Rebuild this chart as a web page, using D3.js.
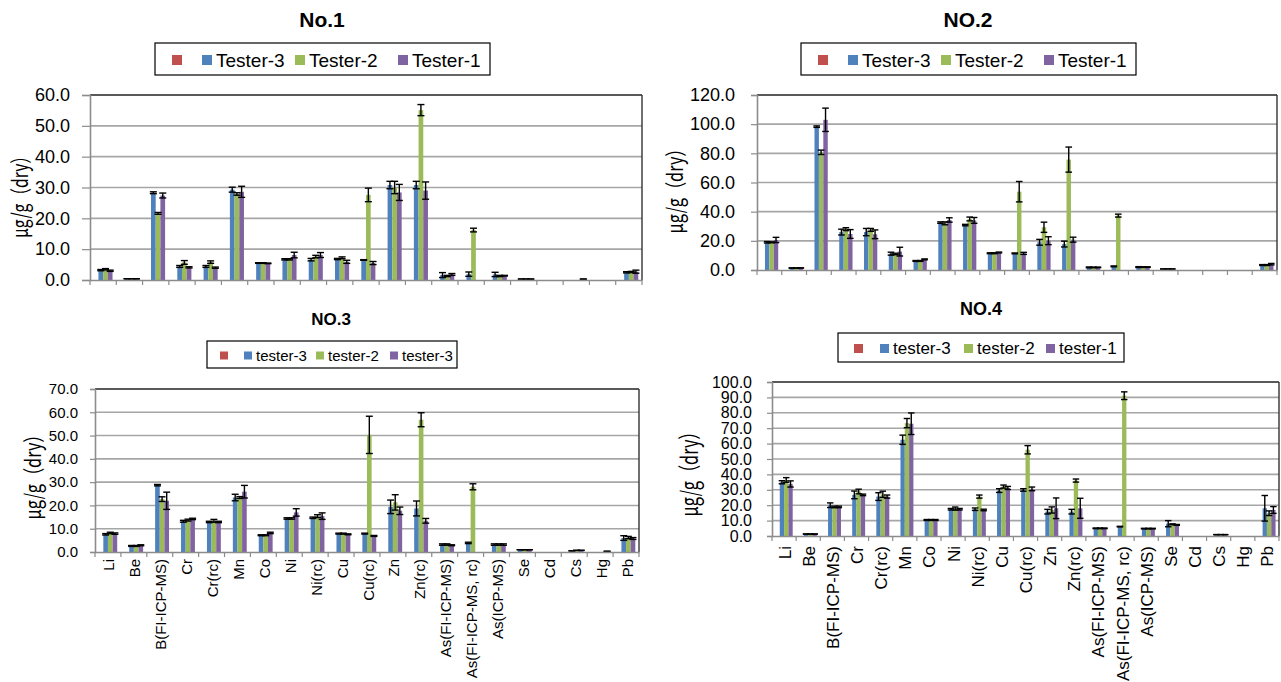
<!DOCTYPE html>
<html><head><meta charset="utf-8">
<script src="https://cdn.jsdelivr.net/npm/d3@7"></script>
<style>body{margin:0;background:#fff}svg{display:block}</style>
</head><body>
<svg id="c" width="1281" height="682"></svg>
<script>
// ---------- DATA ----------
const categories = ["Li","Be","B(FI-ICP-MS)","Cr","Cr(rc)","Mn","Co","Ni","Ni(rc)","Cu","Cu(rc)","Zn","Zn(rc)","As(FI-ICP-MS)","As(FI-ICP-MS, rc)","As(ICP-MS)","Se","Cd","Cs","Hg","Pb"];
const seriesKeys = ["red","blue","green","purple"];
const seriesColors = ["#C0504D","#4F81BD","#9BBB59","#8064A2"];

const legendNo1 = ["", "Tester-3", "Tester-2", "Tester-1"];
const legendNo2 = ["", "Tester-3", "Tester-2", "Tester-1"];
const legendNo3 = ["", "tester-3", "tester-2", "tester-3"];
const legendNo4 = ["", "tester-3", "tester-2", "tester-1"];

const yTicksNo1 = [0,10,20,30,40,50,60];
const yTicksNo2 = [0,20,40,60,80,100,120];
const yTicksNo3 = [0,10,20,30,40,50,60,70];
const yTicksNo4 = [0,10,20,30,40,50,60,70,80,90,100];

const no1Blue      = [3.2,0.4,28.3,4.4,4.4,29.3,5.5,6.7,6.6,6.8,6.5,30.8,30.8,1.6,1.9,1.8,0.3,0,0,0,2.5];
const no1BlueErr   = [0.2,0,0.3,0.3,0.3,0.8,0.1,0.2,0.4,0.2,0.1,1.2,1.2,0.8,0.7,0.7,0,0,0,0,0.2];
const no1Green     = [3.5,0.4,21.6,5.7,5.8,27.9,5.5,6.7,7.6,7.2,27.6,30.0,55.1,1.3,16.2,1.3,0.3,0,0,0,2.6];
const no1GreenErr  = [0.2,0,0.3,0.6,0.4,0.4,0.1,0.2,0.4,0.3,2.2,2.0,1.8,0.2,0.6,0.2,0,0,0,0,0.2];
const no1Purple    = [3.0,0.4,27.4,4.1,4.0,28.6,5.4,8.1,8.1,5.9,5.5,28.4,29.0,1.8,0,1.4,0.3,0,0.3,0,2.7];
const no1PurpleErr = [0.2,0,0.8,0.2,0.2,1.8,0.1,0.9,0.8,0.5,0.5,2.6,2.8,0.3,0,0.1,0,0,0,0,0.5];

const no2Blue      = [19.0,1.4,98.3,26.0,26.0,11.2,6.2,32.5,30.8,11.5,11.4,19.0,17.8,1.8,2.5,2.0,0.7,0,0,0,3.4];
const no2BlueErr   = [0.5,0,0.5,2,2.5,1,0.3,0.5,0.5,0.3,0.3,2,2,0.3,0.3,0.3,0,0,0,0,0.3];
const no2Green     = [19.0,1.4,80.7,28.0,27.5,11.0,6.2,32.0,35.0,11.5,53.7,29.3,75.7,1.8,37.3,2.0,0.7,0,0,0,3.4];
const no2GreenErr  = [0.3,0,1.5,1,1,0.5,0.3,1,1.3,0.3,7,3.5,8.6,0.2,1,0.2,0,0,0,0,0.3];
const no2Purple    = [20.6,1.4,103,24.7,24.5,12.6,7.3,34.3,34.0,12.0,11.4,20.1,20.8,1.8,0,2.0,0.7,0,0,0,4.0];
const no2PurpleErr = [1.8,0,8,3,3,3,0.3,1.5,2,0.3,0.7,2.7,1.7,0.2,0,0.2,0,0,0,0,0.5];

const no3Blue      = [7.6,2.6,28.7,13.2,12.9,23.4,7.2,14.4,14.7,7.9,7.9,19.4,18.7,3.2,3.9,3.2,1.0,0,0.5,0,6.0];
const no3BlueErr   = [0.3,0.2,0.3,0.4,0.3,1.4,0.2,0.3,0.3,0.2,0.2,2.9,3.2,0.3,0.3,0.3,0,0,0,0,1.0];
const no3Green     = [8.2,2.6,22.7,13.7,13.4,23.4,7.2,14.4,15.4,7.9,50.3,21.3,56.8,3.2,28.0,3.2,1.0,0,0.7,0,6.2];
const no3GreenErr  = [0.3,0.2,1.0,0.4,0.6,0.4,0.2,0.3,0.6,0.2,8,3.3,3,0.3,1.3,0.3,0,0,0,0,0.5];
const no3Purple    = [7.9,2.9,22.0,14.2,12.9,25.9,8.2,17.0,15.4,7.6,6.9,17.7,13.4,2.9,0,3.2,1.0,0,0.7,0.3,5.8];
const no3PurpleErr = [0.3,0.2,3.7,0.3,0.3,2.7,0.3,1.6,1.4,0.2,0.2,1.6,1.0,0.2,0,0.3,0,0,0,0,0.4];

const no4Blue      = [34.9,1.3,20.0,26.7,25.6,62.5,10.4,17.4,17.4,29.5,29.9,15.8,15.8,5.0,6.1,4.8,8.0,0,0.9,0,18.0];
const no4BlueErr   = [1,0,1.5,2.5,2.5,3,0.3,0.5,0.8,1.2,0.8,1.5,1.5,0.2,0.2,0.2,2,0,0,0,8.3];
const no4Green     = [36.4,1.3,18.9,28.9,27.1,73.3,10.4,17.8,25.6,32.1,56.0,16.9,36.0,5.0,91.1,4.8,7.6,0,0.9,0,14.8];
const no4GreenErr  = [1.5,0,0.5,1.5,2,3,0.3,1,1,1,2.7,2,1,0.2,2.5,0.2,0.3,0,0,0,1.5];
const no4Purple    = [33.8,1.3,18.9,26.7,25.6,72.9,10.4,17.4,16.9,31.2,30.6,18.0,18.0,5.0,0,4.8,7.2,0,0.9,0,16.9];
const no4PurpleErr = [2,0,0.5,0.5,1,7,0.3,0.5,0.5,1,1.2,6.7,6.5,0.2,0,0.2,0.3,0,0,0,2.2];

// ---------- LAYOUT ----------
const panels = [
  {title:"No.1", tx:322, ty:27, tsize:21,
   leg:{x:155,y:43,w:335,h:32,size:19,sq:10,off:[17,47,140,243]},
   labels:legendNo1, plot:{l:90,r:642,t:95,b:280}, yTicks:yTicksNo1, tickFont:18, tickSize:8, tickPad:12,
   ylab:{x:18,y:193,len:90,size:22}, xlabels:false,
   data:[no1Blue,no1Green,no1Purple], err:[no1BlueErr,no1GreenErr,no1PurpleErr]},
  {title:"NO.2", tx:968, ty:27, tsize:21,
   leg:{x:801,y:43,w:335,h:32,size:19,sq:10,off:[17,47,140,243]},
   labels:legendNo2, plot:{l:757,r:1277,t:95,b:270}, yTicks:yTicksNo2, tickFont:18, tickSize:6, tickPad:16,
   ylab:{x:673,y:187,len:93,size:22}, xlabels:false,
   data:[no2Blue,no2Green,no2Purple], err:[no2BlueErr,no2GreenErr,no2PurpleErr]},
  {title:"NO.3", tx:331, ty:325, tsize:17,
   leg:{x:207,y:341,w:250,h:27,size:15,sq:8,off:[13,37,109,183]},
   labels:legendNo3, plot:{l:95,r:639,t:389,b:552}, yTicks:yTicksNo3, tickFont:15, tickSize:5, tickPad:12,
   ylab:{x:31,y:473,len:93,size:22}, xlabels:true, xfont:15, xlabY:559,
   data:[no3Blue,no3Green,no3Purple], err:[no3BlueErr,no3GreenErr,no3PurpleErr]},
  {title:"NO.4", tx:981, ty:315, tsize:18,
   leg:{x:838,y:333,w:286,h:29,size:17,sq:9,off:[16,42,126,208]},
   labels:legendNo4, plot:{l:772,r:1279,t:382,b:536}, yTicks:yTicksNo4, tickFont:16, tickSize:5, tickPad:15,
   ylab:{x:688,y:470,len:93,size:23}, xlabels:true, xfont:17, xlabY:546,
   data:[no4Blue,no4Green,no4Purple], err:[no4BlueErr,no4GreenErr,no4PurpleErr]}
];

const svg = d3.select("#c");
const FONT = "'Liberation Sans', Arial, sans-serif";
const fmt = d3.format(".1f");

panels.forEach(p => {
  const g = svg.append("g");
  const {l,r,t,b} = p.plot;
  const yMax = p.yTicks[p.yTicks.length-1];
  const x = d3.scaleBand().domain(categories).range([l,r]).paddingInner(0).paddingOuter(0);
  const xs = d3.scaleBand().domain(seriesKeys).range([0,x.bandwidth()]).paddingInner(0).paddingOuter(0.8);
  const y = d3.scaleLinear().domain([0,yMax]).range([b,t]);

  g.append("text").attr("x",p.tx).attr("y",p.ty).attr("text-anchor","middle")
    .style("font-family",FONT).style("font-weight","bold").style("font-size",p.tsize+"px").text(p.title);

  const L = p.leg;
  const lg = g.append("g").attr("transform",`translate(${L.x},${L.y})`);
  lg.append("rect").attr("width",L.w).attr("height",L.h).attr("fill","#fff").attr("stroke","#000").attr("stroke-width",1.2);
  seriesKeys.forEach((k,i)=>{
    lg.append("rect").attr("x",L.off[i]).attr("y",(L.h-L.sq)/2+1).attr("width",L.sq).attr("height",L.sq).attr("fill",seriesColors[i]);
    if (p.labels[i]) lg.append("text").attr("x",L.off[i]+L.sq+4).attr("y",L.h/2+1).attr("dominant-baseline","central")
      .style("font-family",FONT).style("font-size",L.size+"px").attr("fill","#000").text(p.labels[i]);
  });

  g.append("g").selectAll("line").data(p.yTicks.filter(v=>v>0 && v<yMax)).join("line")
    .attr("x1",l).attr("x2",r).attr("y1",d=>y(d)).attr("y2",d=>y(d))
    .attr("stroke","#a6a6a6").attr("stroke-width",1.6);
  g.append("line").attr("x1",l).attr("x2",r).attr("y1",y(yMax)).attr("y2",y(yMax)).attr("stroke","#222").attr("stroke-width",1.6);
  g.append("line").attr("x1",r).attr("x2",r).attr("y1",t).attr("y2",b).attr("stroke","#333").attr("stroke-width",1.4);

  const vals = [];
  p.data.forEach((arr,si)=>{
    arr.forEach((v,ci)=>{ vals.push({cat:categories[ci], s:seriesKeys[si+1], color:seriesColors[si+1], v, e:p.err[si][ci]}); });
  });
  const bw = xs.bandwidth();
  g.append("g").selectAll("rect").data(vals.filter(d=>d.v>0)).join("rect")
    .attr("x",d=>x(d.cat)+xs(d.s)).attr("width",bw)
    .attr("y",d=>y(d.v)).attr("height",d=>y(0)-y(d.v))
    .attr("fill",d=>d.color);

  const capW = Math.min(bw*1.5, 8);
  const eg = g.append("g").attr("stroke","#000").attr("stroke-width",1.4);
  vals.filter(d=>d.v>0).forEach(d=>{
    const cx = x(d.cat)+xs(d.s)+bw/2;
    const y1 = y(d.v+d.e), y2 = y(Math.max(0,d.v-d.e));
    eg.append("line").attr("x1",cx).attr("x2",cx).attr("y1",y1).attr("y2",y2);
    eg.append("line").attr("x1",cx-capW/2).attr("x2",cx+capW/2).attr("y1",y1).attr("y2",y1);
    eg.append("line").attr("x1",cx-capW/2).attr("x2",cx+capW/2).attr("y1",y2).attr("y2",y2);
  });

  const ya = g.append("g").attr("transform",`translate(${l},0)`)
    .call(d3.axisLeft(y).tickValues(p.yTicks).tickFormat(fmt).tickSize(p.tickSize).tickPadding(p.tickPad));
  ya.select(".domain").attr("stroke","#8c8c8c").attr("stroke-width",1.6);
  ya.selectAll(".tick line").attr("stroke","#8c8c8c").attr("stroke-width",1.2);
  ya.selectAll(".tick text").style("font-family",FONT).style("font-size",p.tickFont+"px").attr("fill","#000");

  const xa = g.append("g").attr("transform",`translate(0,${b})`)
    .call(d3.axisBottom(x).tickSize(0).tickFormat(""));
  xa.select(".domain").attr("stroke","#8c8c8c").attr("stroke-width",1.6);
  g.append("g").selectAll("line").data(categories.map(c=>x(c)).concat([r])).join("line")
    .attr("x1",d=>d).attr("x2",d=>d).attr("y1",b).attr("y2",b+5).attr("stroke","#8c8c8c").attr("stroke-width",1.2);

  if (p.xlabels) {
    g.append("g").selectAll("text").data(categories).join("text")
      .attr("transform",d=>`translate(${x(d)+x.bandwidth()/2+1},${p.xlabY}) rotate(-90)`)
      .attr("text-anchor","end").attr("dominant-baseline","central")
      .style("font-family",FONT).style("font-size",p.xfont+"px").attr("fill","#000").text(d=>d);
  }

  g.append("text").attr("transform",`translate(${p.ylab.x},${p.ylab.y}) rotate(-90)`)
    .attr("text-anchor","middle").attr("dominant-baseline","central")
    .attr("textLength",p.ylab.len).attr("lengthAdjust","spacingAndGlyphs")
    .style("font-family","'Noto Sans CJK JP', sans-serif").style("font-size",p.ylab.size+"px").text("μg/g（dry）");
});
</script>
</body></html>
